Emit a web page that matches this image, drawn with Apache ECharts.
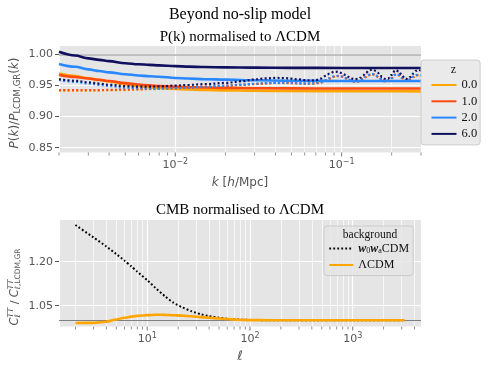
<!DOCTYPE html>
<html>
<head>
<meta charset="utf-8">
<script src="https://cdn.jsdelivr.net/npm/echarts@6/dist/echarts.min.js"></script>
<style>html,body{margin:0;padding:0;background:#fff}#c{width:488px;height:370px}</style>
</head>
<body>
<div id="c"></div>
<script>
// ---------- data ----------
const kSolid = [0.002,0.0025,0.003,0.0035,0.004,0.005,0.006,0.007,0.008,0.01,0.012,0.015,0.02,0.03,0.05,0.1,0.2,0.3];
const pkLcdmZ0 = [0.969,0.965,0.9615,0.9587,0.9562,0.952,0.949,0.947,0.9458,0.9445,0.9435,0.9428,0.9421,0.9415,0.941,0.9408,0.9406,0.9405];
const pkLcdmZ1 = [0.9668,0.9636,0.961,0.959,0.957,0.9537,0.9515,0.950,0.949,0.948,0.9473,0.9466,0.946,0.9455,0.9452,0.945,0.945,0.945];
const pkLcdmZ2 = [0.9845,0.980,0.9758,0.9732,0.971,0.968,0.966,0.9648,0.964,0.962,0.961,0.960,0.9593,0.9582,0.9575,0.957,0.957,0.957];
const pkLcdmZ6 = [1.004,0.998,0.9935,0.991,0.989,0.9857,0.984,0.983,0.9822,0.981,0.9802,0.9795,0.979,0.9785,0.9782,0.978,0.978,0.978];

const kDotted = [0.002,0.0025,0.003,0.0035,0.004,0.005,0.006,0.007,0.008,0.01,0.012,0.015,0.02,0.025,0.03,0.035,0.04,0.045,0.05,0.055,0.06,0.065,0.07,0.075,0.08,0.085,0.09,0.095,0.1,0.105,0.11,0.115,0.12,0.125,0.13,0.135,0.14,0.145,0.15,0.155,0.16,0.165,0.17,0.175,0.18,0.185,0.19,0.2,0.21,0.22,0.23,0.24,0.25,0.26,0.27,0.28,0.29,0.3];
const pkW0waZ0 = [0.9416,0.9416,0.9417,0.9418,0.942,0.9426,0.9433,0.9439,0.9443,0.9451,0.946,0.9473,0.9491,0.9507,0.952,0.9531,0.9537,0.9538,0.9535,0.953,0.9526,0.9525,0.953,0.9546,0.9578,0.9611,0.9638,0.9648,0.9639,0.9614,0.9587,0.9567,0.9557,0.956,0.9575,0.9602,0.9635,0.9661,0.9674,0.9674,0.9662,0.9636,0.9607,0.9583,0.9567,0.9563,0.9571,0.9614,0.9669,0.9662,0.9617,0.958,0.9575,0.9599,0.9634,0.9659,0.9666,0.9656];
const pkW0waZ1 = [0.9424,0.9424,0.9425,0.9426,0.9428,0.9433,0.9439,0.9444,0.9447,0.9454,0.9463,0.9476,0.9494,0.951,0.9523,0.9534,0.954,0.9541,0.9538,0.9533,0.9529,0.9528,0.9533,0.9549,0.9581,0.9614,0.9641,0.9651,0.9642,0.9617,0.959,0.957,0.956,0.9563,0.9578,0.9605,0.9638,0.9664,0.9677,0.9677,0.9665,0.9639,0.961,0.9586,0.957,0.9566,0.9574,0.9617,0.9672,0.9665,0.962,0.9583,0.9578,0.9602,0.9637,0.9662,0.9669,0.9659];
const pkW0waZ2 = [0.9588,0.9558,0.953,0.9508,0.949,0.9465,0.9452,0.9448,0.9449,0.9456,0.9465,0.9478,0.9496,0.9512,0.9525,0.9536,0.9542,0.9543,0.954,0.9535,0.9531,0.953,0.9536,0.9552,0.9585,0.9618,0.9645,0.9655,0.9645,0.962,0.9592,0.9572,0.9562,0.9565,0.958,0.9608,0.9642,0.9668,0.968,0.968,0.9668,0.9642,0.9612,0.9588,0.9572,0.9568,0.9576,0.962,0.9675,0.9668,0.9622,0.9585,0.958,0.9605,0.964,0.9665,0.9672,0.9662];
const pkW0waZ6 = [0.960,0.9575,0.955,0.953,0.951,0.9488,0.948,0.948,0.9485,0.9497,0.9507,0.952,0.954,0.9568,0.9595,0.9612,0.962,0.9618,0.9608,0.9596,0.9586,0.958,0.9585,0.961,0.9652,0.9693,0.9718,0.972,0.970,0.967,0.9637,0.961,0.960,0.9605,0.9626,0.9662,0.970,0.9732,0.9748,0.975,0.9735,0.9705,0.967,0.9635,0.961,0.960,0.9608,0.967,0.9745,0.973,0.9668,0.961,0.9603,0.9638,0.9692,0.9735,0.975,0.9735];

const zLabels = ['0.0','1.0','2.0','6.0'];
const pkRefLevel = 1.0;

const ellValues = [2,3,4,5,6,7,8,10,12,15,18,22,27,33,40,50,60,75,100,150,300,1000,3200];
const clW0wa = [1.325,1.283,1.252,1.226,1.204,1.184,1.166,1.137,1.111,1.081,1.060,1.044,1.031,1.021,1.0145,1.009,1.0055,1.003,1.0012,1.0003,1.0,1.0,1.0];
const clLcdm = [0.991,0.9912,0.9953,1.003,1.0085,1.0125,1.015,1.0177,1.019,1.0187,1.0175,1.016,1.0138,1.011,1.0088,1.0063,1.0043,1.002,1.0008,1.0002,1.0,1.0,1.0];
const clLabels = ['w0waCDM','ΛCDM'];
const clRefLevel = 1.0;

const yTicksTop = [0.85,0.90,0.95,1.00];
const yTicksBottom = [1.05,1.20];
const xMajorTop = [0.01,0.1];
const xMinorTop = [0.002,0.003,0.004,0.005,0.006,0.007,0.008,0.009,0.02,0.03,0.04,0.05,0.06,0.07,0.08,0.09,0.2,0.3];
const xMajorBottom = [10,100,1000];
const xMinorBottom = [2,3,4,5,6,7,8,9,20,30,40,50,60,70,80,90,200,300,400,500,600,700,800,900,2000,3000,4000];

// ---------- styling ----------
const SANS = 'DejaVu Sans';
const SERIF = 'Liberation Serif';
const GREY = '#555555';
const zColors = ['#ffa500','#ff4a12','#2a88ff','#10105e'];
const TOP_Y = [0.8423, 1.0133];
const BOT_Y = [0.9789, 1.3422];

const chart = echarts.init(document.getElementById('c'), null, {renderer:'canvas', width:488, height:370});

function logLabel(v) {
  const e = Math.log10(v), r = Math.round(e);
  if (Math.abs(e - r) > 1e-6) return '';
  return '{b|10}{s|' + (r < 0 ? '\u2212' : '') + Math.abs(r) + '}';
}
const logRich = {
  b: {fontFamily: SANS, fontSize: 11, color: GREY, lineHeight: 15},
  s: {fontFamily: SANS, fontSize: 8, color: GREY, lineHeight: 8, verticalAlign: 'top'}
};

const measureCtx = document.createElement('canvas').getContext('2d');
function mathLabel(pieces, cx, cy) {
  let x = 0, prevStart = 0, prevW = 0;
  const children = [];
  for (const p of pieces) {
    const font = (p.it ? 'italic ' : '') + p.size + 'px "' + SANS + '"';
    measureCtx.font = font;
    const w = measureCtx.measureText(p.t).width;
    let start;
    if (p.stack) { start = prevStart; prevW = Math.max(prevW, w); x = start + prevW; }
    else { start = x; x += w; prevStart = start; prevW = w; }
    children.push({type:'text', x:start, y:p.dy || 0, z:100,
      style:{text:p.t, font:font, fill:GREY, align:'left', verticalAlign:'middle'}});
  }
  children.forEach(c => { c.x -= x / 2; });
  return {type:'group', x:cx, y:cy, rotation:Math.PI / 2, silent:true, children:children};
}

function pairs(xs, ys) { return xs.map((x, i) => [x, ys[i]]); }

function curve(name, xs, ys, color, dotted, gi, extra) {
  return Object.assign({
    type:'line', name:name, xAxisIndex:gi, yAxisIndex:gi, data:pairs(xs, ys),
    symbol:'none', smooth:0.35, smoothMonotone:'x', silent:true, z:2,
    lineStyle: dotted ? {color:color, width:2.2, type:[2, 2.3]} : {color:color, width:2.6},
    itemStyle:{color:color}, emphasis:{disabled:true}
  }, extra || {});
}

function tickSeries(gi, yMin, majors, minors, gridVals) {
  return {
    type:'scatter', xAxisIndex:gi, yAxisIndex:gi, silent:true, clip:false, z:3,
    symbol:'rect', itemStyle:{color:GREY}, emphasis:{disabled:true},
    data: majors.map(v => ({value:[v, yMin], symbolSize:[1, 4], symbolOffset:[0, 2]}))
      .concat(minors.map(v => ({value:[v, yMin], symbolSize:[0.8, 3], symbolOffset:[0, 1.5]}))),
    markLine: {silent:true, symbol:['none','none'], z:1, animation:false,
      label:{show:false}, emphasis:{disabled:true},
      lineStyle:{color:'#ffffff', width:0.7, type:'solid'},
      data: gridVals.map(v => ({xAxis:v}))}
  };
}

function refLine(level, color, width) {
  return {silent:true, symbol:['none','none'], z:1.5, animation:false,
    label:{show:false}, emphasis:{disabled:true},
    lineStyle:{color:color, width:width, type:'solid'}, data:[{yAxis:level}]};
}

const pkSolid = [pkLcdmZ0, pkLcdmZ1, pkLcdmZ2, pkLcdmZ6];
const pkDot = [pkW0waZ0, pkW0waZ1, pkW0waZ2, pkW0waZ6];
const series = [];
zLabels.forEach((z, i) => {
  series.push(curve(z, kSolid, pkSolid[i], zColors[i], false, 0,
    i === 0 ? {markLine: refLine(pkRefLevel, '#b0b0b0', 1.5)} : null));
  series.push(curve('w0wa ' + z, kDotted, pkDot[i], zColors[i], true, 0));
});
series.push(tickSeries(0, TOP_Y[0], xMajorTop, xMinorTop,
  xMinorTop.filter(v => v > 0.002 && v < 0.3)));
series.push(curve(clLabels[0], ellValues, clW0wa, '#000000', true, 1,
  {smooth:0.2, smoothMonotone:null, lineStyle:{color:'#000000', width:2, type:[1.8, 2.2]}}));
series.push(curve(clLabels[1], ellValues, clLcdm, zColors[0], false, 1,
  {markLine: refLine(clRefLevel, '#808080', 1)}));
series.push(tickSeries(1, BOT_Y[0], xMajorBottom, xMinorBottom, xMinorBottom));

const axisCommonY = (ticks, range) => ({
  type:'value', min:range[0], max:range[1],
  axisLine:{show:false},
  axisTick:{show:true, length:4, lineStyle:{color:GREY, width:1}, customValues:ticks},
  axisLabel:{customValues:ticks, formatter:v => v.toFixed(2), margin:6, color:GREY, fontFamily:SANS, fontSize:11},
  splitLine:{show:true, lineStyle:{color:'#ffffff', width:1.2}}
});

const legendBase = {
  orient:'vertical', itemHeight:12, selectedMode:false,
  backgroundColor:'rgba(229,229,229,0.8)', borderColor:'#cccccc', borderWidth:1, borderRadius:3,
  itemStyle:{opacity:0, borderWidth:0}
};

const option = {
  animation:false,
  backgroundColor:'#ffffff',
  textStyle:{fontFamily:SANS},
  title:[
    {text:'Beyond no-slip model', left:240, textAlign:'center', top:7, padding:0,
     textStyle:{fontFamily:SERIF, fontSize:16, fontWeight:'normal', color:'#000'}},
    {text:'P(k) normalised to \u039BCDM', left:240, textAlign:'center', top:29.5, padding:0,
     textStyle:{fontFamily:SERIF, fontSize:15, fontWeight:'normal', color:'#000'}},
    {text:'CMB normalised to \u039BCDM', left:240, textAlign:'center', top:203, padding:0,
     textStyle:{fontFamily:SERIF, fontSize:15, fontWeight:'normal', color:'#000'}}
  ],
  grid:[
    {left:59, width:362, top:46, height:106.5, show:true, backgroundColor:'#e5e5e5', borderWidth:0, outerBoundsMode:'none'},
    {left:59, width:362, top:220, height:106.5, show:true, backgroundColor:'#e5e5e5', borderWidth:0, outerBoundsMode:'none'}
  ],
  xAxis:[
    {type:'log', logBase:10, gridIndex:0, min:0.002, max:0.3,
     axisLine:{show:false}, axisTick:{show:false},
     splitLine:{show:true, lineStyle:{color:'#ffffff', width:1.2}},
     axisLabel:{formatter:logLabel, margin:5, showMinLabel:false, showMaxLabel:false, rich:logRich},
     name:'{i|k} [{i|h}/Mpc]', nameLocation:'middle', nameGap:24,
     nameTextStyle:{fontFamily:SANS, fontSize:12, color:GREY,
       rich:{i:{fontFamily:SANS, fontSize:12, fontStyle:'italic', color:GREY}}}},
    {type:'log', logBase:10, gridIndex:1, min:1.385, max:4620,
     axisLine:{show:false}, axisTick:{show:false},
     splitLine:{show:true, lineStyle:{color:'#ffffff', width:1.2}},
     axisLabel:{formatter:logLabel, margin:5, showMinLabel:false, showMaxLabel:false, rich:logRich},
     name:'\u2113', nameLocation:'middle', nameGap:24,
     nameTextStyle:{fontFamily:SANS, fontSize:13, fontStyle:'italic', color:GREY}}
  ],
  yAxis:[
    Object.assign({gridIndex:0}, axisCommonY(yTicksTop, TOP_Y)),
    Object.assign({gridIndex:1}, axisCommonY(yTicksBottom, BOT_Y))
  ],
  legend:[
    Object.assign({}, legendBase, {data:zLabels, left:421, top:60, padding:[18.5, 3, 4.5, 9.5],
     itemWidth:25, itemGap:3.3,
     textStyle:{fontFamily:SERIF, fontSize:12.5, color:'#111'}}),
    Object.assign({}, legendBase, {data:clLabels, left:324, top:226, padding:[16, 4, 4, 4.3],
     itemWidth:24, itemGap:3.5,
     formatter: n => n === 'w0waCDM' ? '{w|w}{s|0}{w|w}{s|a}CDM' : n,
     textStyle:{fontFamily:SERIF, fontSize:12, color:'#111', lineHeight:13,
       rich:{w:{fontFamily:SERIF, fontSize:12, fontStyle:'italic', fontWeight:'bold', color:'#111', lineHeight:13},
             s:{fontFamily:SERIF, fontSize:8, color:'#111', lineHeight:8, verticalAlign:'bottom'}}}})
  ],
  graphic:[
    {type:'text', x:453.3, y:70.3, z:100, silent:true,
     style:{text:'z', font:'12px "' + SERIF + '"', fill:'#111', align:'center', verticalAlign:'middle'}},
    {type:'text', x:370, y:234.7, z:100, silent:true,
     style:{text:'background', font:'11.5px "' + SERIF + '"', fill:'#111', align:'center', verticalAlign:'middle'}},
    mathLabel([
      {t:'P', it:1, size:12}, {t:'(', size:12}, {t:'k', it:1, size:12}, {t:')/', size:12},
      {t:'P', it:1, size:12}, {t:'LCDM,GR', size:8.5, dy:3.2},
      {t:'(', size:12}, {t:'k', it:1, size:12}, {t:')', size:12}
    ], 15, 103),
    mathLabel([
      {t:'C', it:1, size:11.5}, {t:'TT', it:1, size:7.8, dy:-4.3}, {t:'\u2113', size:7.8, dy:3.3, stack:1},
      {t:' / ', size:11},
      {t:'C', it:1, size:11.5}, {t:'TT', it:1, size:7.8, dy:-4.3}, {t:'\u2113,LCDM,GR', size:7.5, dy:3.3, stack:1}
    ], 15, 287)
  ],
  series:series
};
chart.setOption(option);
</script>
</body>
</html>
